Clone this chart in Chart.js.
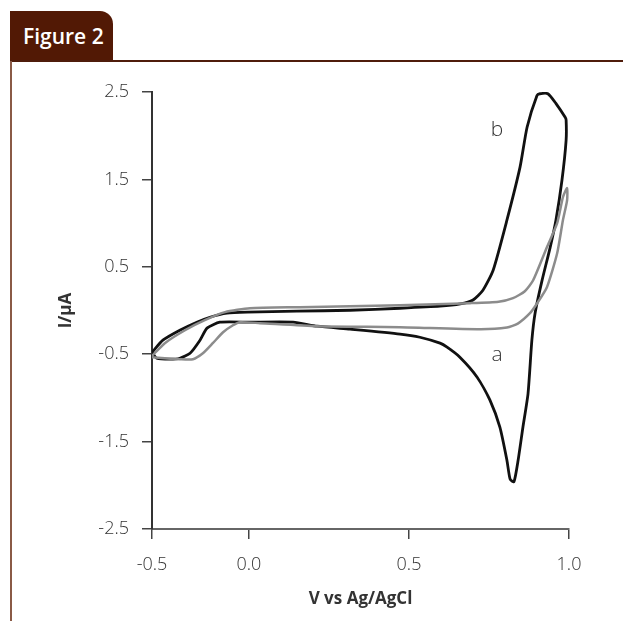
<!DOCTYPE html>
<html>
<head>
<meta charset="utf-8">
<script src="https://cdn.jsdelivr.net/npm/chart.js@4.4.0/dist/chart.umd.min.js"></script>
<style>
  body { margin: 0; background: #fff; }
  #wrap { position: relative; width: 623px; height: 621px; overflow: hidden; }
  #tab {
    position: absolute; left: 10px; top: 11px; width: 103px; height: 50px;
    background: #521905; border-top-right-radius: 13px;
    color: #fff; font-family: 'Open Sans', sans-serif; font-weight: 600;
    font-size: 21px; line-height: 50px; padding-left: 13px; box-sizing: border-box;
  }
  #hline { position: absolute; left: 10px; top: 60px; width: 613px; height: 2px; background: #4f1c0b; }
  #vline { position: absolute; left: 10px; top: 61px; width: 2px; height: 560px; background: #8a5a46; }
  canvas { position: absolute; left: 0; top: 0; }
</style>
</head>
<body>
<div id="wrap">
  <canvas id="cv" width="623" height="621"></canvas>
  <div id="tab">Figure 2</div>
  <div id="hline"></div>
  <div id="vline"></div>
</div>
<script>
// curva b (preta) - volta completa do voltamograma
const blackX = [-0.303, -0.269, -0.216, -0.163, -0.122, -0.069, -0.006, 0.15, 0.316, 0.472, 0.597, 0.66, 0.7,
  0.731, 0.763, 0.806, 0.847, 0.869, 0.9, 0.909, 0.934, 0.959, 0.988, 0.991, 0.991, 0.978, 0.959, 0.941,
  0.916, 0.894, 0.884, 0.872, 0.856, 0.841, 0.828, 0.816, 0.806, 0.784, 0.753, 0.713, 0.659, 0.619,
  0.597, 0.534, 0.472, 0.316, 0.213, 0.138, 0.003, -0.091, -0.131, -0.153, -0.184, -0.216, -0.247,
  -0.288, -0.303];
const blackY = [-0.48, -0.34, -0.226, -0.134, -0.077, -0.031, -0.019, -0.008, 0.003, 0.026, 0.049, 0.075, 0.12,
  0.232, 0.461, 1.033, 1.64, 2.097, 2.46, 2.48, 2.48, 2.37, 2.21, 2.18, 1.95, 1.49, 1.03, 0.72,
  0.347, -0.031, -0.34, -0.95, -1.335, -1.713, -1.96, -1.93, -1.713, -1.335, -1.026, -0.763, -0.534, -0.42,
  -0.374, -0.306, -0.27, -0.214, -0.18, -0.134, -0.134, -0.134, -0.202, -0.34, -0.489, -0.546, -0.557,
  -0.546, -0.48];

// curva a (cinza)
const grayX = [-0.303, -0.263, -0.2, -0.138, -0.075, 0.003, 0.159, 0.472, 0.691, 0.78, 0.825, 0.862, 0.888, 0.931,
  0.963, 0.981, 0.994, 0.994, 0.981, 0.963, 0.931, 0.9, 0.878, 0.84, 0.806, 0.722, 0.472, 0.213, 0.034, -0.028,
  -0.05, -0.081, -0.113, -0.144, -0.175, -0.216, -0.263, -0.303];
const grayY = [-0.52, -0.374, -0.226, -0.111, -0.019, 0.026, 0.038, 0.061, 0.084, 0.1, 0.141, 0.22, 0.346, 0.724,
  0.999, 1.296, 1.4, 1.26, 1.033, 0.655, 0.266, 0.08, -0.031, -0.15, -0.195, -0.214, -0.191, -0.18, -0.145, -0.134,
  -0.169, -0.249, -0.374, -0.489, -0.557, -0.557, -0.546, -0.534];

// eixos: o primeiro rótulo do eixo x fica no início do eixo
const xTickValues = [-0.303, 0, 0.5, 1.0];
const xTickLabels = ['-0.5', '0.0', '0.5', '1.0'];
const yTickValues = [-2.5, -1.5, -0.5, 0.5, 1.5, 2.5];

// rótulos das curvas
const curveLabels = [
  { text: 'b', x: 0.775, y: 2.06 },
  { text: 'a', x: 0.775, y: -0.51 },
];

function toPoints(xs, ys) {
  return xs.map((x, i) => ({ x: x, y: ys[i] }));
}

const labelPlugin = {
  id: 'curveLabels',
  afterDatasetsDraw(chart) {
    const { ctx, scales } = chart;
    ctx.save();
    ctx.font = '300 21px "Open Sans", sans-serif';
    ctx.fillStyle = '#333';
    ctx.textAlign = 'center';
    ctx.textBaseline = 'middle';
    for (const lbl of curveLabels) {
      ctx.fillText(lbl.text, scales.x.getPixelForValue(lbl.x), scales.y.getPixelForValue(lbl.y));
    }
    ctx.restore();
  },
};

const tickFont = { family: '"Open Sans", sans-serif', size: 18, weight: '300' };
const titleFont = { family: '"Open Sans", sans-serif', size: 17, weight: 'bold' };

new Chart(document.getElementById('cv'), {
  type: 'scatter',
  data: {
    datasets: [
      {
        label: 'a',
        data: toPoints(grayX, grayY),
        showLine: true,
        borderColor: '#8c8c8c',
        borderWidth: 2.5,
        pointRadius: 0,
        tension: 0.2,
      },
      {
        label: 'b',
        data: toPoints(blackX, blackY),
        showLine: true,
        borderColor: '#111',
        borderWidth: 2.8,
        pointRadius: 0,
        tension: 0.2,
      },
    ],
  },
  options: {
    responsive: false,
    animation: false,
    layout: { padding: { top: 92, right: 54, left: 0, bottom: 0 } },
    plugins: { legend: { display: false }, tooltip: { enabled: false } },
    scales: {
      x: {
        type: 'linear',
        min: -0.303,
        max: 1.0,
        afterBuildTicks: (scale) => { scale.ticks = xTickValues.map((v) => ({ value: v })); },
        afterFit: (scale) => { scale.height = 92; },
        ticks: {
          callback: (val, i) => xTickLabels[i],
          font: tickFont,
          color: '#333',
          padding: 15,
          maxRotation: 0,
        },
        grid: { drawOnChartArea: false, tickLength: 10, color: '#444', lineWidth: 1.5 },
        border: { color: '#666', width: 2 },
        title: {
          display: true,
          text: 'V vs Ag/AgCl',
          font: titleFont,
          color: '#333',
          padding: { top: 0, bottom: 12 },
        },
      },
      y: {
        type: 'linear',
        min: -2.5,
        max: 2.5,
        afterBuildTicks: (scale) => { scale.ticks = yTickValues.map((v) => ({ value: v })); },
        afterFit: (scale) => { scale.width = 152; },
        ticks: {
          callback: (val) => val.toFixed(1),
          font: tickFont,
          color: '#333',
          padding: 13,
        },
        grid: { drawOnChartArea: false, tickLength: 10, color: '#444', lineWidth: 1.5 },
        border: { color: '#333', width: 2 },
        title: {
          display: true,
          text: 'I/µA',
          font: titleFont,
          color: '#333',
          padding: { top: 56, bottom: 0 },
        },
      },
    },
  },
  plugins: [labelPlugin],
});
</script>
</body>
</html>
